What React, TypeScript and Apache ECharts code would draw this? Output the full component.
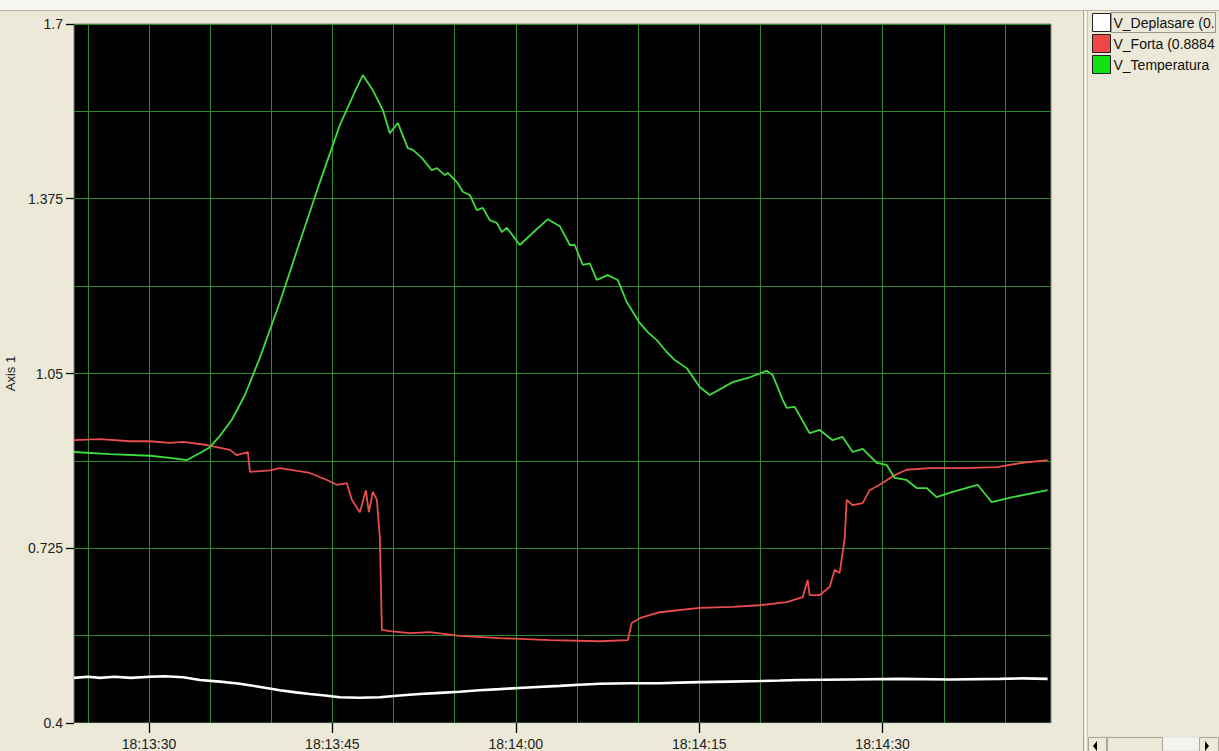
import React, { useEffect, useRef } from 'react';
import * as echarts from 'echarts';

// Series names and the (clipped) labels shown in the legend panel
const seriesNames = ['V_Deplasare', 'V_Forta', 'V_Temperatura'];
const legendLabels = ['V_Deplasare (0.', 'V_Forta (0.8884', 'V_Temperatura'];
const lineColors = ['#ffffff', '#e84c4c', '#3fdc3f'];
const legendColors = ['#ffffff', '#f04646', '#12e012'];

// Axis ticks (x in seconds after 18:13:00)
const yLabelTicks = [0.4, 0.725, 1.05, 1.375, 1.7];
const yGridTicks = [0.4, 0.5625, 0.725, 0.8875, 1.05, 1.2125, 1.375, 1.5375, 1.7];
const xLabelTicks = [30, 45, 60, 75, 90];
const xGridTicks = [25, 30, 35, 40, 45, 50, 55, 60, 65, 70, 75, 80, 85, 90, 95, 100];
const xMin = 23.87;
const xMax = 103.77;

// [seconds after 18:13:00, value]
const deplasarePoints: [number, number][] = [
  [23.87, 0.484], [25.0, 0.486], [26.0, 0.484], [27.2, 0.486], [28.5, 0.484], [30.08, 0.486],
  [31.31, 0.487], [32.8, 0.485], [34.17, 0.48], [35.8, 0.477], [37.44, 0.473], [39.1, 0.467],
  [40.71, 0.461], [42.0, 0.457], [43.16, 0.454], [44.4, 0.451], [45.61, 0.448], [47.2, 0.447],
  [48.88, 0.448], [50.5, 0.451], [52.15, 0.454], [53.8, 0.456], [55.42, 0.458], [57.0, 0.461],
  [58.69, 0.463], [61.0, 0.466], [63.6, 0.469], [65.2, 0.471], [66.87, 0.473], [69.3, 0.474],
  [71.77, 0.474], [73.4, 0.475], [75.04, 0.476], [77.5, 0.477], [79.95, 0.478], [81.6, 0.479],
  [83.21, 0.48], [87.3, 0.481], [91.39, 0.482], [95.5, 0.481], [99.57, 0.482], [101.5, 0.483],
  [103.49, 0.482]
];

const fortaPoints: [number, number][] = [
  [23.87, 0.926], [25.99, 0.928], [28.45, 0.924], [30.08, 0.924], [31.72, 0.921], [32.78, 0.923],
  [34.74, 0.917], [36.62, 0.908], [37.19, 0.898], [38.09, 0.904], [38.26, 0.867], [39.89, 0.87],
  [40.71, 0.874], [43.16, 0.865], [44.55, 0.852], [45.37, 0.843], [46.19, 0.846], [46.59, 0.815],
  [47.25, 0.792], [47.74, 0.833], [47.98, 0.792], [48.31, 0.83], [48.64, 0.815], [48.88, 0.746],
  [49.05, 0.573], [49.7, 0.571], [51.34, 0.567], [52.97, 0.569], [55.42, 0.562], [58.69, 0.558],
  [62.78, 0.554], [66.87, 0.552], [69.16, 0.554], [69.48, 0.586], [70.14, 0.595], [71.77, 0.606],
  [75.04, 0.614], [77.74, 0.616], [79.95, 0.619], [82.15, 0.625], [83.46, 0.634], [83.87, 0.666],
  [84.03, 0.638], [84.85, 0.638], [85.67, 0.653], [86.08, 0.685], [86.49, 0.679], [86.9, 0.744],
  [87.06, 0.815], [87.55, 0.805], [88.37, 0.809], [88.94, 0.833], [89.76, 0.843], [90.98, 0.861],
  [91.96, 0.871], [93.84, 0.874], [96.54, 0.874], [99.32, 0.876], [101.42, 0.884], [103.49, 0.889]
];

const temperaturaPoints: [number, number][] = [
  [23.87, 0.904], [26.81, 0.9], [30.08, 0.897], [31.72, 0.893], [33.11, 0.889], [34.17, 0.902],
  [34.99, 0.913], [35.8, 0.934], [36.78, 0.964], [37.85, 1.01], [39.07, 1.079], [40.71, 1.183],
  [42.34, 1.295], [43.98, 1.406], [45.61, 1.512], [46.84, 1.574], [47.49, 1.605], [48.31, 1.577],
  [49.13, 1.54], [49.7, 1.497], [50.35, 1.516], [51.17, 1.469], [51.58, 1.466], [52.32, 1.451],
  [53.13, 1.428], [53.54, 1.432], [54.2, 1.419], [54.44, 1.423], [55.18, 1.406], [55.67, 1.388],
  [56.24, 1.382], [56.81, 1.354], [57.3, 1.358], [57.88, 1.335], [58.45, 1.33], [58.86, 1.313],
  [59.27, 1.321], [60.33, 1.289], [61.55, 1.315], [62.62, 1.337], [63.6, 1.324], [64.42, 1.289],
  [64.82, 1.289], [65.48, 1.252], [66.05, 1.255], [66.62, 1.224], [67.52, 1.233], [68.34, 1.224],
  [69.07, 1.183], [70.14, 1.144], [70.79, 1.127], [71.53, 1.112], [72.34, 1.09], [73.0, 1.075],
  [73.98, 1.06], [75.04, 1.025], [75.86, 1.01], [77.74, 1.034], [79.13, 1.043], [80.52, 1.055],
  [81.01, 1.047], [81.83, 1.001], [82.15, 0.986], [82.81, 0.988], [84.03, 0.939], [84.85, 0.945],
  [85.91, 0.926], [86.73, 0.932], [87.55, 0.904], [88.37, 0.91], [89.51, 0.884], [90.33, 0.88],
  [90.98, 0.856], [91.96, 0.852], [92.78, 0.837], [93.6, 0.837], [94.41, 0.82], [95.72, 0.83],
  [97.77, 0.843], [98.91, 0.811], [100.63, 0.82], [103.49, 0.833]
];

const seriesData = [deplasarePoints, fortaPoints, temperaturaPoints];
const lineWidths = [2.6, 1.8, 1.8];

const FONT = '"Liberation Sans", Arial, sans-serif';
const GRID_GREEN = '#2f8a2f';

function fmtTime(v: number): string {
  const m = 13 + Math.floor(v / 60);
  const s = Math.round(v % 60);
  return `18:${m}:${s < 10 ? '0' + s : s}`;
}

export default function App() {
  const ref = useRef<HTMLDivElement>(null);

  useEffect(() => {
    if (!ref.current) return;
    const chart = echarts.init(ref.current, undefined, { renderer: 'svg' });

    const option: any = {
      animation: false,
      backgroundColor: '#ECE9D8',
      grid: {
        left: 74,
        top: 24,
        width: 977,
        height: 699,
        containLabel: false,
        outerBoundsMode: 'none',
        show: true,
        backgroundColor: '#000000',
        borderColor: '#7b877b',
        borderWidth: 1
      },
      legend: {
        orient: 'vertical',
        left: 1092,
        top: 13,
        padding: 0,
        itemWidth: 18,
        itemHeight: 18,
        itemGap: 2,
        icon: 'rect',
        selectedMode: false,
        data: seriesNames.map((n, i) => ({
          name: n,
          itemStyle: { color: legendColors[i], borderColor: '#222', borderWidth: 1 }
        })),
        formatter: (n: string) => legendLabels[seriesNames.indexOf(n)],
        textStyle: { fontFamily: FONT, fontSize: 14, color: '#111', padding: [0, 0, 0, -2] }
      },
      xAxis: [
        {
          type: 'value',
          position: 'bottom',
          min: xMin,
          max: xMax,
          axisLine: { show: false, onZero: false },
          axisTick: { show: false, customValues: xGridTicks },
          axisLabel: { show: false },
          splitLine: { show: true, lineStyle: { color: GRID_GREEN, width: 1 } }
        },
        {
          type: 'value',
          position: 'bottom',
          min: xMin,
          max: xMax,
          axisLine: { show: true, onZero: false, lineStyle: { color: '#cfe3cf', width: 1 } },
          axisTick: { show: true, inside: false, customValues: xLabelTicks, length: 10, lineStyle: { color: '#000', width: 1.3 } },
          axisLabel: {
            show: true,
            customValues: xLabelTicks,
            margin: 14,
            fontFamily: FONT,
            fontSize: 14,
            lineHeight: 14,
            color: '#222',
            formatter: (v: number) => fmtTime(v)
          },
          splitLine: { show: false },
          minorSplitLine: { show: false }
        }
      ],
      yAxis: [
        {
          type: 'value',
          position: 'left',
          min: 0.4,
          max: 1.7,
          axisLine: { show: false, onZero: false },
          axisTick: { show: false, customValues: yGridTicks },
          axisLabel: { show: false },
          splitLine: { show: true, lineStyle: { color: GRID_GREEN, width: 1 } }
        },
        {
          type: 'value',
          position: 'left',
          min: 0.4,
          max: 1.7,
          name: 'Axis 1',
          nameLocation: 'middle',
          nameGap: 48,
          nameTextStyle: { fontFamily: FONT, fontSize: 13, color: '#222' },
          axisLine: { show: false, onZero: false },
          axisTick: { show: true, inside: false, customValues: yLabelTicks, length: 8, lineStyle: { color: '#000', width: 1.3 } },
          axisLabel: {
            show: true,
            customValues: yLabelTicks,
            margin: 11,
            fontFamily: FONT,
            fontSize: 14,
            color: '#222',
            formatter: (v: number) => String(v)
          },
          splitLine: { show: false },
          minorSplitLine: { show: false }
        }
      ],
      series: seriesNames.map((n, i) => ({
        name: n,
        type: 'line',
        xAxisIndex: 0,
        yAxisIndex: 0,
        data: seriesData[i],
        showSymbol: false,
        symbol: 'none',
        color: lineColors[i],
        lineStyle: { color: lineColors[i], width: lineWidths[i] },
        emphasis: { disabled: true },
        silent: true
      })),
      graphic: [
        { type: 'rect', silent: true, shape: { x: 0, y: 0, width: 1219, height: 10 }, style: { fill: '#F6F5F0' } },
        { type: 'line', silent: true, shape: { x1: 0, y1: 10.5, x2: 1219, y2: 10.5 }, style: { stroke: '#B9B6A8', lineWidth: 1 } },
        { type: 'line', silent: true, shape: { x1: 1083.5, y1: 11, x2: 1083.5, y2: 751 }, style: { stroke: '#A8A597', lineWidth: 1 } },
        { type: 'line', silent: true, shape: { x1: 1085.5, y1: 11, x2: 1085.5, y2: 751 }, style: { stroke: '#FFFFFF', lineWidth: 1 } },
        { type: 'line', silent: true, shape: { x1: 1087.5, y1: 11, x2: 1087.5, y2: 751 }, style: { stroke: '#C9C6B8', lineWidth: 1 } },
        {
          type: 'rect', silent: true,
          shape: { x: 1111.5, y: 12.5, width: 104, height: 20 },
          style: { fill: 'none', stroke: '#444', lineWidth: 1, lineDash: [1, 1] }
        },
        { type: 'rect', silent: true, shape: { x: 1088, y: 737, width: 131, height: 14 }, style: { fill: '#F4F3EE', stroke: '#E0DED4' } },
        { type: 'rect', silent: true, shape: { x: 1088.5, y: 737.5, width: 18, height: 14 }, style: { fill: '#ECE9D8', stroke: '#A9A69A' } },
        { type: 'polygon', silent: true, shape: { points: [[1097, 741], [1097, 751], [1093, 746]] }, style: { fill: '#000' } },
        { type: 'rect', silent: true, shape: { x: 1107.5, y: 737.5, width: 55, height: 14 }, style: { fill: '#ECE9D8', stroke: '#A9A69A' } },
        { type: 'rect', silent: true, shape: { x: 1199.5, y: 737.5, width: 19, height: 14 }, style: { fill: '#ECE9D8', stroke: '#A9A69A' } },
        { type: 'polygon', silent: true, shape: { points: [[1205, 741], [1205, 751], [1209, 746]] }, style: { fill: '#000' } }
      ]
    };

    chart.setOption(option);
    return () => chart.dispose();
  }, []);

  return (
    <div
      ref={ref}
      style={{ position: 'absolute', left: 0, top: 0, width: 1219, height: 751, background: '#ECE9D8' }}
    />
  );
}
